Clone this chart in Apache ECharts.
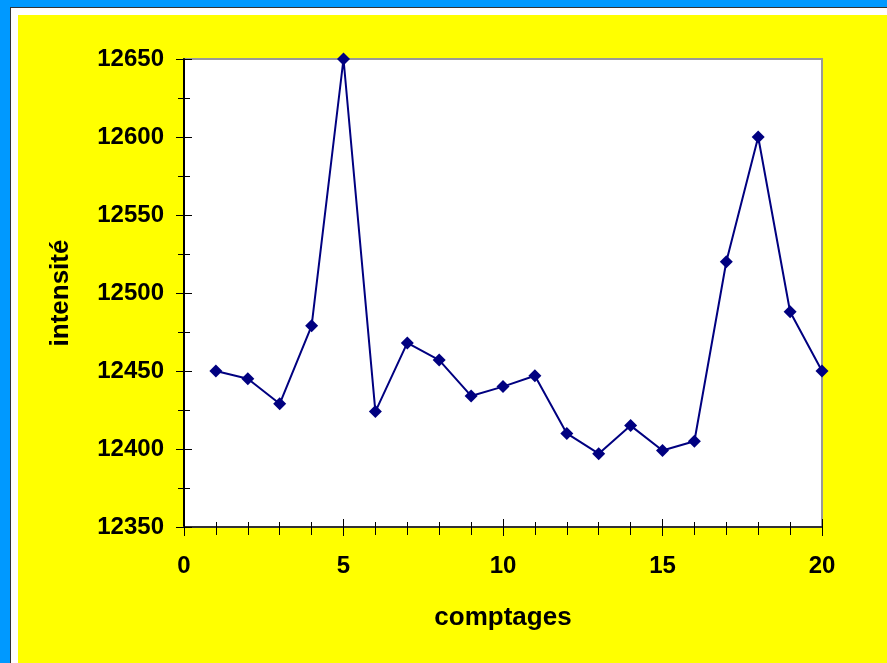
<!DOCTYPE html>
<html>
<head>
<meta charset="utf-8">
<script src="https://cdn.jsdelivr.net/npm/echarts@6/dist/echarts.min.js"></script>
<style>
  html, body { margin: 0; padding: 0; background: #0099ff; }
  #frame {
    position: absolute; left: 10px; top: 7px; width: 900px; height: 700px;
    border: 1px solid #333; background: #ffffff;
  }
  #panel {
    position: absolute; left: 18px; top: 15px; width: 900px; height: 700px;
    background: #ffff00;
  }
  #chart { position: absolute; left: 0; top: 0; width: 887px; height: 663px; }
</style>
</head>
<body>
<div id="frame"></div>
<div id="panel"></div>
<div id="chart"></div>
<script>
// Successive counts and the intensity measured for each
const comptages = [1, 2, 3, 4, 5, 6, 7, 8, 9, 10, 11, 12, 13, 14, 15, 16, 17, 18, 19, 20];
const intensite = [12450, 12445, 12429, 12479, 12650, 12424, 12468, 12457, 12434, 12440,
                   12447, 12410, 12397, 12415, 12399, 12405, 12520, 12600, 12488, 12450];

const xRange = { min: 0, max: 20, step: 5 };
const yRange = { min: 12350, max: 12650, step: 50 };

const fontFamily = '"Liberation Sans", Arial, sans-serif';

const chart = echarts.init(document.getElementById('chart'), null, { renderer: 'canvas' });

// Main axis (labels, outward ticks) plus a copy on the same edge whose ticks point
// into the plot, so every tick mark crosses the axis line.
function xAxisDef(main) {
  return {
    type: 'value', min: xRange.min, max: xRange.max, interval: xRange.step,
    position: 'bottom',
    z: 5,
    name: main ? 'comptages' : '',
    nameLocation: 'middle', nameGap: 78,
    nameTextStyle: { fontFamily, fontWeight: 'bold', fontSize: 26, color: '#000' },
    axisLine: { show: main, lineStyle: { color: '#333', width: 2 } },
    axisTick: { show: true, inside: !main, length: main ? 9 : 8, lineStyle: { color: '#000', width: 1 } },
    minorTick: { show: true, splitNumber: 5, length: main ? 8 : 5, lineStyle: { color: '#000', width: 1 } },
    axisLabel: { show: main, margin: 27, fontFamily, fontWeight: 'bold', fontSize: 24, color: '#000',
                 formatter: v => String(v) },
    splitLine: { show: false }, minorSplitLine: { show: false }
  };
}

function yAxisDef(main) {
  return {
    type: 'value', min: yRange.min, max: yRange.max, interval: yRange.step,
    position: 'left',
    z: 5,
    name: main ? 'intensité' : '',
    nameLocation: 'middle', nameGap: 110,
    nameTextStyle: { fontFamily, fontWeight: 'bold', fontSize: 26, color: '#000' },
    axisLine: { show: main, lineStyle: { color: '#000', width: 2 } },
    axisTick: { show: true, inside: !main, length: 8, lineStyle: { color: '#000', width: 1 } },
    minorTick: { show: true, splitNumber: 2, length: 6, lineStyle: { color: '#000', width: 1 } },
    axisLabel: { show: main, margin: 20, fontFamily, fontWeight: 'bold', fontSize: 24, color: '#000',
                 formatter: v => String(v) },
    splitLine: { show: false }, minorSplitLine: { show: false }
  };
}

chart.setOption({
  backgroundColor: 'transparent',
  animation: false,
  grid: {
    left: 184, top: 59, right: 65, bottom: 136,
    show: true, backgroundColor: '#ffffff', borderColor: '#999999', borderWidth: 2
  },
  xAxis: [xAxisDef(true), xAxisDef(false)],
  yAxis: [yAxisDef(true), yAxisDef(false)],
  series: [{
    type: 'line',
    xAxisIndex: 0, yAxisIndex: 0,
    z: 10,
    data: comptages.map((c, i) => [c, intensite[i]]),
    symbol: 'diamond', symbolSize: 13,
    clip: false,
    itemStyle: { color: '#000080' },
    lineStyle: { color: '#000080', width: 2 }
  }]
});
</script>
</body>
</html>
